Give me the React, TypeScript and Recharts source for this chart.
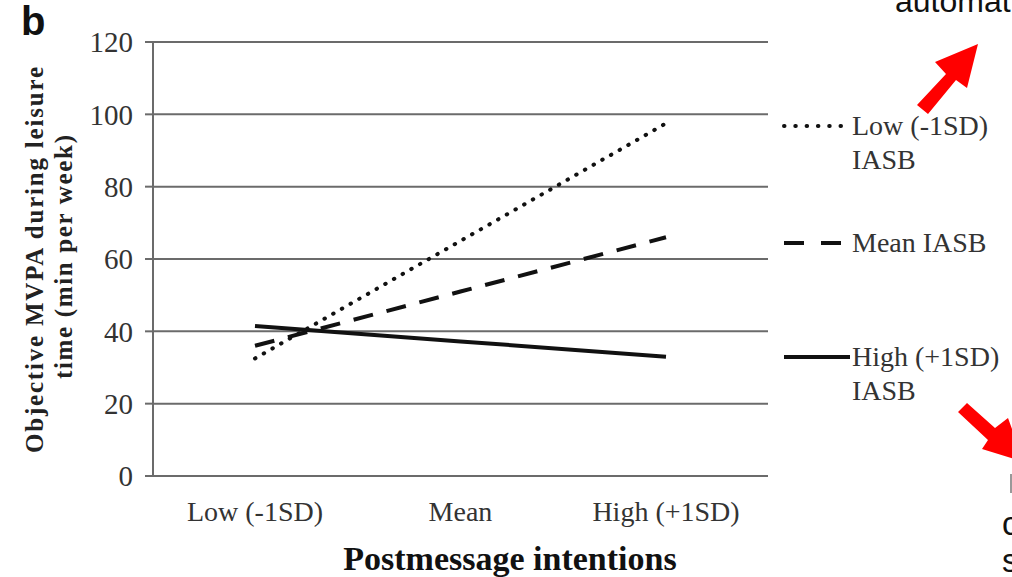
import React from 'react';
import { LineChart, Line, XAxis, YAxis, CartesianGrid } from 'recharts';

const categories = ['Low (-1SD)', 'Mean', 'High (+1SD)'];
const lowIASB = [32.5, 65, 97.5];
const meanIASB = [36, 51, 66];
const highIASB = [41.5, 37.2, 33];
const yTicks = [0, 20, 40, 60, 80, 100, 120];

const seriesDefs = [
  { key: 'low', values: lowIASB, label: ['Low (-1SD)', 'IASB'], dash: '0.5 9.5', cap: 'round', legendY: 126 },
  { key: 'mean', values: meanIASB, label: ['Mean IASB'], dash: '20 14', cap: 'butt', legendY: 243 },
  { key: 'high', values: highIASB, label: ['High (+1SD)', 'IASB'], dash: undefined, cap: 'butt', legendY: 357 },
];

const data = categories.map((c, i) => ({
  cat: c,
  low: lowIASB[i],
  mean: meanIASB[i],
  high: highIASB[i],
}));

const SERIF = '"Liberation Serif", "Times New Roman", serif';
const SANS = '"Liberation Sans", Arial, sans-serif';

export default function App() {
  return (
    <div style={{ position: 'absolute', left: 0, top: 0, width: 1012, height: 577, background: '#fff', overflow: 'hidden' }}>
      <LineChart
        width={1012}
        height={577}
        data={data}
        margin={{ top: 42, right: 244, bottom: 30, left: 0 }}
      >
        <CartesianGrid vertical={false} stroke="#6b6b6b" strokeWidth={2} />
        <XAxis
          dataKey="cat"
          height={71}
          padding={{ left: 102, right: 102 }}
          tickLine={false}
          tickSize={0}
          tickMargin={25}
          axisLine={{ stroke: '#6b6b6b', strokeWidth: 2 }}
          tick={{ fontFamily: SERIF, fontSize: 28, fill: '#333' }}
          interval={0}
        />
        <YAxis
          width={153}
          domain={[0, 120]}
          ticks={yTicks}
          interval={0}
          tickSize={8}
          tickMargin={12}
          tickLine={{ stroke: '#6b6b6b', strokeWidth: 2 }}
          axisLine={{ stroke: '#6b6b6b', strokeWidth: 2 }}
          tick={{ fontFamily: SERIF, fontSize: 29, fill: '#333' }}
        />
        {seriesDefs.map((s) => (
          <Line
            key={s.key}
            dataKey={s.key}
            stroke="#111"
            strokeWidth={4}
            strokeDasharray={s.dash}
            strokeLinecap={s.cap as any}
            dot={false}
            activeDot={false}
            isAnimationActive={false}
            type="linear"
          />
        ))}
      </LineChart>
      <svg
        width={1012}
        height={577}
        style={{ position: 'absolute', left: 0, top: 0, pointerEvents: 'none' }}
      >
        {/* panel label */}
        <text x={21} y={35} fontFamily={SANS} fontWeight="bold" fontSize={40} fill="#111">b</text>
        {/* y axis title */}
        <text
          transform="translate(43,260) rotate(-90)"
          textAnchor="middle"
          fontFamily={SERIF}
          fontWeight="bold"
          fontSize={25}
          fill="#222"
          textLength={386}
          lengthAdjust="spacing"
        >
          Objective MVPA during leisure
        </text>
        <text
          transform="translate(72,257) rotate(-90)"
          textAnchor="middle"
          fontFamily={SERIF}
          fontWeight="bold"
          fontSize={25}
          fill="#222"
          textLength={244}
          lengthAdjust="spacing"
        >
          time (min per week)
        </text>
        {/* x axis title */}
        <text x={510} y={570} textAnchor="middle" fontFamily={SERIF} fontWeight="bold" fontSize={34} fill="#111">
          Postmessage intentions
        </text>
        {/* legend */}
        {seriesDefs.map((s) => (
          <g key={s.key}>
            <line
              x1={784}
              x2={s.dash ? 842 : 850}
              y1={s.legendY}
              y2={s.legendY}
              stroke="#111"
              strokeWidth={4}
              strokeDasharray={s.dash === '20 14' ? '20 17' : s.dash === '0.5 9.5' ? '0.5 10.8' : undefined}
              strokeLinecap={s.cap as any}
            />
            {s.label.map((t, j) => (
              <text
                key={j}
                x={852}
                y={s.legendY + 9 + j * 34}
                fontFamily={SERIF}
                fontSize={28}
                fill="#333"
              >
                {t}
              </text>
            ))}
          </g>
        ))}
        {/* overlaid slide annotations */}
        <text x={895} y={12} fontFamily={SANS} fontSize={32} fill="#111">automat</text>
        <polygon
          points="917,105 946,74 935,62 978,44 967,88 956,80 928,114"
          fill="#ff0000"
        />
        <polygon
          points="958,412 967,403 995,428 1008,418 1024,462 982,449 988,440"
          fill="#ff0000"
        />
        <rect x={1010} y={474} width={2} height={19} fill="#999" />
        <text x={1002} y={535} fontFamily={SANS} fontSize={33} fill="#111">c</text>
        <text x={1002} y={572} fontFamily={SANS} fontSize={33} fill="#111">s</text>
      </svg>
    </div>
  );
}
